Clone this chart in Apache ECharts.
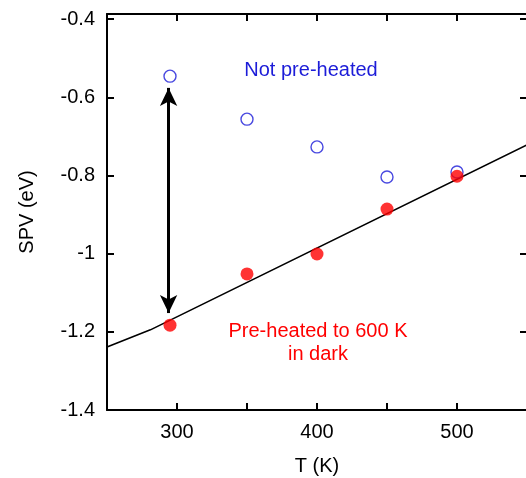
<!DOCTYPE html>
<html>
<head>
<meta charset="utf-8">
<script src="https://cdn.jsdelivr.net/npm/echarts@6/dist/echarts.min.js"></script>
<style>
  html, body { margin: 0; padding: 0; background: #fff; }
  #chart { width: 526px; height: 478px; }
</style>
</head>
<body>
<div id="chart"></div>
<script>
// temperatures (K)
const tempK = [295, 350, 400, 450, 500]
// SPV (eV), sample not pre-heated
const notPreheated = [-0.546, -0.656, -0.727, -0.804, -0.791]
// SPV (eV), pre-heated to 600 K in dark
const preheated = [-1.183, -1.052, -1.001, -0.886, -0.802]
// guide line through the pre-heated points
const fitT = [250, 281, 550]
const fitSpv = [-1.239, -1.195, -0.722]
// double arrow between the two states at room temperature
const arrowT = 294
const arrowSpv = [-0.576, -1.152]

const font = 'Liberation Sans, Arial, sans-serif'
const blue = '#1c1cd8'
const red = '#ff0000'

const chart = echarts.init(document.getElementById('chart'))

const axisCommon = {
  axisLine: { show: true, lineStyle: { color: '#000', width: 2 } },
  axisTick: { show: true, inside: true, length: 7, lineStyle: { color: '#000', width: 2 } },
  splitLine: { show: false }
}

chart.setOption({
  animation: false,
  grid: { left: 107, top: 14, width: 420, height: 396, outerBoundsMode: 'none' },
  xAxis: [
    Object.assign({}, axisCommon, {
      type: 'value', min: 250, max: 550, interval: 50,
      position: 'bottom',
      name: 'T (K)', nameLocation: 'middle', nameGap: 46,
      nameTextStyle: { color: '#000', fontSize: 20, fontFamily: font },
      axisLabel: {
        color: '#000', fontSize: 20, fontFamily: font, margin: 12,
        formatter: v => (v % 100 === 0 ? String(v) : '')
      }
    }),
    Object.assign({}, axisCommon, {
      type: 'value', min: 250, max: 550, interval: 50,
      position: 'top', axisLabel: { show: false }
    })
  ],
  yAxis: [
    Object.assign({}, axisCommon, {
      type: 'value', min: -1.4, max: -0.387, interval: 0.2,
      position: 'left',
      name: 'SPV (eV)', nameLocation: 'middle', nameGap: 70, nameRotate: 90,
      nameTextStyle: { color: '#000', fontSize: 20, fontFamily: font },
      axisLabel: {
        color: '#000', fontSize: 20, fontFamily: font, margin: 12,
        formatter: v => {
          const k = Math.round(v * 10)
          if (Math.abs(k - v * 10) > 0.01 || k % 2 !== 0) return ''
          return String(k / 10)
        }
      }
    }),
    Object.assign({}, axisCommon, {
      type: 'value', min: -1.4, max: -0.387, interval: 0.2,
      position: 'right', axisLabel: { show: false }
    })
  ],
  series: [
    {
      name: 'fit',
      type: 'line',
      data: fitT.map((t, i) => [t, fitSpv[i]]),
      showSymbol: false,
      lineStyle: { color: '#000', width: 1.6 },
      z: 1,
      markLine: {
        silent: true,
        symbol: ['arrow', 'arrow'],
        symbolSize: [13, 18],
        label: { show: false },
        lineStyle: { color: '#000', width: 3, type: 'solid' },
        data: [[
          { coord: [arrowT, arrowSpv[0]] },
          { coord: [arrowT, arrowSpv[1]] }
        ]]
      }
    },
    {
      name: 'Not pre-heated',
      type: 'scatter',
      data: tempK.map((t, i) => [t, notPreheated[i]]),
      symbol: 'circle',
      symbolSize: 12,
      itemStyle: { color: '#fff', borderColor: blue, borderWidth: 1.4 },
      z: 2
    },
    {
      name: 'Pre-heated',
      type: 'scatter',
      data: tempK.map((t, i) => [t, preheated[i]]),
      symbol: 'circle',
      symbolSize: 13,
      itemStyle: { color: red },
      z: 3
    }
  ],
  graphic: [
    {
      type: 'text', x: 311, y: 60,
      style: { text: 'Not pre-heated', fill: blue, fontSize: 20, fontFamily: font, align: 'center', verticalAlign: 'top' }
    },
    {
      type: 'text', x: 318, y: 320,
      style: {
        text: 'Pre-heated to 600 K\nin dark', fill: red, fontSize: 20,
        fontFamily: font, align: 'center', verticalAlign: 'top', lineHeight: 23
      }
    }
  ]
})
</script>
</body>
</html>
